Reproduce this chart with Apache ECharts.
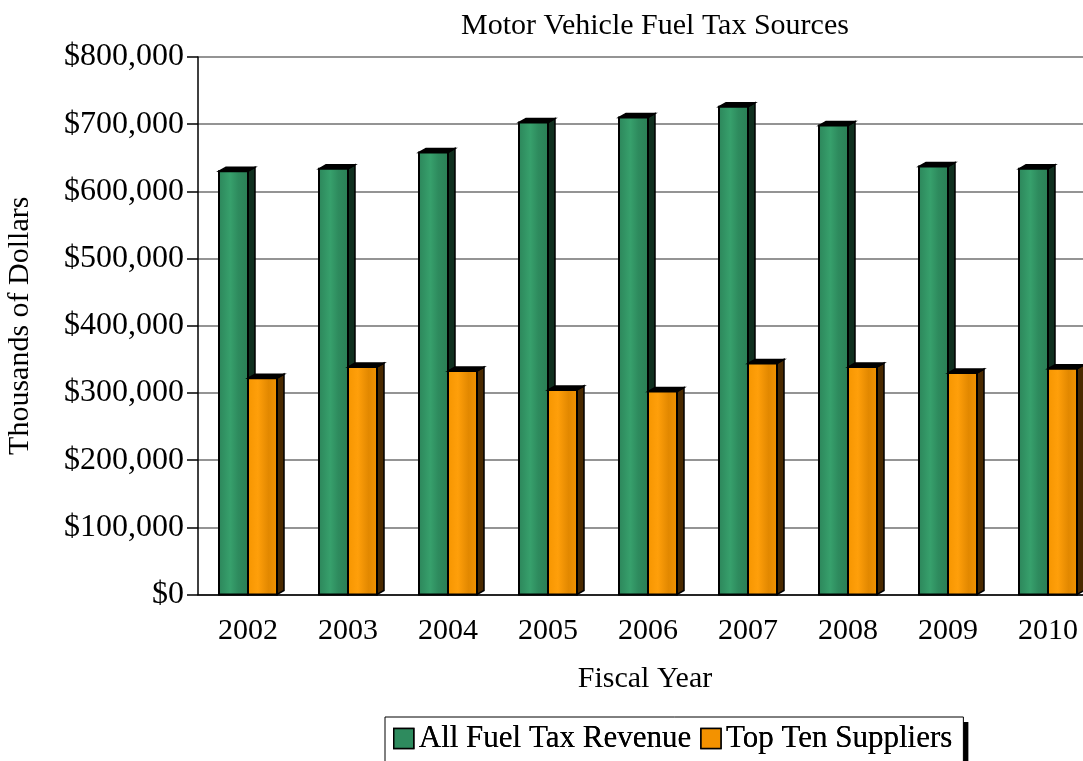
<!DOCTYPE html>
<html>
<head>
<meta charset="utf-8">
<script src="https://cdn.jsdelivr.net/npm/echarts@6/dist/echarts.min.js"></script>
<style>
html,body{margin:0;padding:0;background:#fff;}
#chart{width:1083px;height:761px;}
</style>
</head>
<body>
<div id="chart"></div>
<script>
const categories = ['2002','2003','2004','2005','2006','2007','2008','2009','2010'];
const allFuelTaxRevenue = [630000, 633500, 658000, 702500, 710000, 726000, 698000, 637000, 633500];
const topTenSuppliers = [322000, 338500, 332500, 304500, 302000, 344000, 338500, 329500, 336000];
const seriesNames = ['All Fuel Tax Revenue', 'Top Ten Suppliers'];

const FONT = '"Liberation Serif", "Times New Roman", serif';

function makeRender(leftSide, stops, sideColor) {
  return function (params, api) {
    const cat = api.value(0);
    const v = api.value(1);
    const base = api.coord([cat, 0]);
    const top = api.coord([cat, v]);
    const band = api.size([1, 0])[0];
    const bw = band * 0.29;
    const x0 = base[0] + (leftSide ? -bw : 0);
    const d = 7, dy = 4;
    return {
      type: 'group',
      children: [
        { type: 'polygon',
          shape: { points: [[x0 + bw, top[1]], [x0 + bw + d, top[1] - dy], [x0 + bw + d, base[1] - dy], [x0 + bw, base[1]]] },
          style: { fill: sideColor, stroke: '#000', lineWidth: 1.5 } },
        { type: 'polygon',
          shape: { points: [[x0, top[1]], [x0 + d, top[1] - dy], [x0 + bw + d, top[1] - dy], [x0 + bw, top[1]]] },
          style: { fill: '#000', stroke: '#000', lineWidth: 1.5 } },
        { type: 'rect',
          shape: { x: x0, y: top[1], width: bw, height: base[1] - top[1] },
          style: { fill: new echarts.graphic.LinearGradient(0, 0, 1, 0, stops), stroke: '#000', lineWidth: 2 } }
      ]
    };
  };
}

const greenStops = [
  { offset: 0, color: '#2c855a' }, { offset: 0.4, color: '#37a06c' },
  { offset: 0.65, color: '#2e8b5e' }, { offset: 1, color: '#2b7e55' }
];
const orangeStops = [
  { offset: 0, color: '#f59500' }, { offset: 0.35, color: '#ff9f0a' },
  { offset: 0.7, color: '#e28800' }, { offset: 1, color: '#f29300' }
];

const legendBase = {
  left: 385, top: 717,
  padding: [6, 11, 10, 8],
  itemWidth: 20, itemHeight: 20, itemGap: 9,
  icon: 'rect',
  itemStyle: { borderColor: '#000', borderWidth: 1.5 },
  textStyle: { fontFamily: FONT, fontSize: 31, color: '#000' },
  data: seriesNames
};

const chart = echarts.init(document.getElementById('chart'), null, { renderer: 'canvas' });
chart.setOption({
  animation: false,
  backgroundColor: '#fff',
  title: {
    text: 'Motor Vehicle Fuel Tax Sources',
    left: 650, textAlign: 'center', top: 6,
    textStyle: { fontFamily: FONT, fontSize: 30, fontWeight: 'normal', color: '#000' }
  },
  legend: [
    Object.assign({}, legendBase, {
      backgroundColor: '#fff', borderWidth: 0,
      shadowColor: '#000', shadowBlur: 0, shadowOffsetX: 5, shadowOffsetY: 5
    }),
    Object.assign({}, legendBase, {
      backgroundColor: 'transparent', borderColor: '#000', borderWidth: 1
    })
  ],
  grid: { left: 198, width: 900, top: 57, bottom: 166.5, containLabel: false, outerBoundsMode: 'none' },
  xAxis: {
    type: 'category',
    data: categories,
    name: 'Fiscal Year',
    nameLocation: 'middle',
    nameGap: 70,
    nameTextStyle: { fontFamily: FONT, fontSize: 30, color: '#000', padding: [0, 6, 0, 0] },
    axisLine: { lineStyle: { color: '#000', width: 1.5 } },
    axisTick: { show: false },
    axisLabel: { fontFamily: FONT, fontSize: 30, color: '#000', margin: 22 }
  },
  yAxis: {
    type: 'value',
    min: 0, max: 800000, interval: 100000,
    name: 'Thousands of Dollars',
    nameLocation: 'middle',
    nameGap: 163,
    nameTextStyle: { fontFamily: FONT, fontSize: 30, color: '#000' },
    axisLine: { show: true, lineStyle: { color: '#000', width: 1.5 } },
    axisTick: { show: true, length: 11, lineStyle: { color: '#000', width: 1.5 } },
    splitLine: { lineStyle: { color: '#707070', width: 1.5 } },
    axisLabel: {
      fontFamily: FONT, fontSize: 32, color: '#000', margin: 14,
      formatter: v => '$' + v.toLocaleString('en-US')
    }
  },
  series: [
    {
      name: seriesNames[0],
      type: 'custom',
      itemStyle: { color: '#2e8b5e' },
      encode: { x: 0, y: 1 },
      data: categories.map((c, i) => [i, allFuelTaxRevenue[i]]),
      renderItem: makeRender(true, greenStops, '#10301f'),
      z: 2
    },
    {
      name: seriesNames[1],
      type: 'custom',
      itemStyle: { color: '#f39200' },
      encode: { x: 0, y: 1 },
      data: categories.map((c, i) => [i, topTenSuppliers[i]]),
      renderItem: makeRender(false, orangeStops, '#4a2a00'),
      z: 3
    }
  ]
});
</script>
</body>
</html>
